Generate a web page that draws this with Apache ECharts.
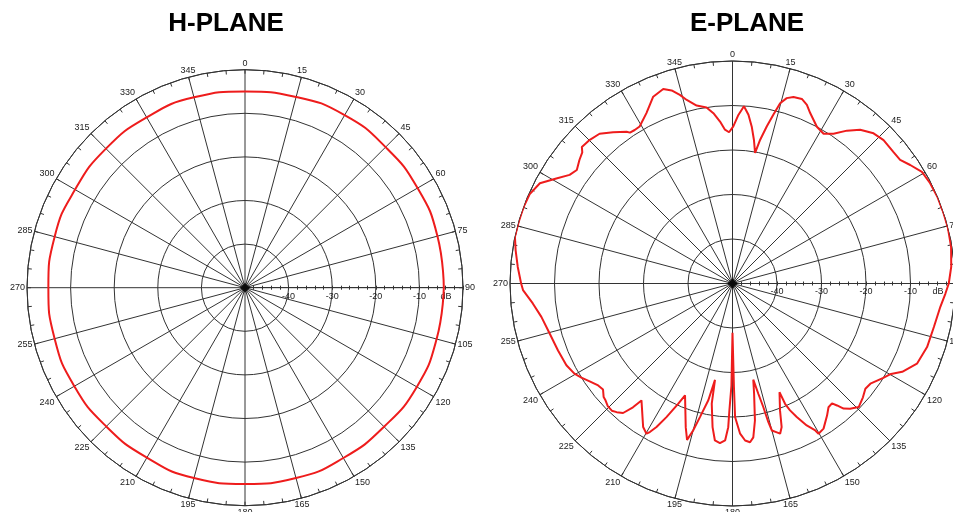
<!DOCTYPE html>
<html>
<head>
<meta charset="utf-8">
<script src="https://cdn.jsdelivr.net/npm/echarts@6/dist/echarts.min.js"></script>
<style>
  html, body { margin: 0; padding: 0; background: #fff; }
  #chart { width: 953px; height: 512px; }
</style>
</head>
<body>
<div id="chart"></div>
<script>
// Azimuth in degrees (clockwise from 0 at top) and relative gain in dB.
const hPlaneAngles = [0, 15, 30, 45, 60, 75, 90, 105, 120, 135, 150, 165,
                      180, 195, 210, 225, 240, 255, 270, 285, 300, 315, 330, 345];
const hPlaneGain = [-5.0, -4.7, -4.3, -4.4, -4.3, -4.3, -4.4, -4.5, -4.5, -4.9, -4.9, -4.8,
                    -5.0, -4.8, -5.0, -5.0, -4.8, -4.8, -4.9, -4.8, -5.0, -4.9, -4.9, -4.8];

const ePlaneAngles = [
  0.3, 2.0, 3.7, 5.4, 7.0, 8.5, 9.8, 10.9, 12.3, 13.6, 14.8, 16.3, 18.1, 20.6, 22.6, 24.5,
  28.3, 31.3, 34.0, 36.8, 39.7, 43.2, 46.5, 50.7, 53.6, 56.3, 59.5, 63.1, 67.2, 71.0, 75.4,
  80.5, 85.6, 90.0, 92.7, 96.4, 102.2, 108.1, 113.5, 117.5, 119.7, 122.2, 126.0, 128.4,
  131.1, 134.4, 136.8, 138.4, 139.4, 140.3, 142.2, 144.4, 147.9, 150.2, 150.6, 152.4,
  154.3, 155.6, 156.4, 156.6, 159.5, 161.1, 162.4, 163.4, 165.0, 165.5, 166.0, 166.8,
  167.8, 168.9, 170.7, 172.3, 173.7, 175.4, 177.1, 178.9, 179.2, 180.0, 180.6, 181.4,
  181.7, 182.7, 184.5, 186.4, 187.9, 189.8, 190.3, 191.7, 193.7, 195.0, 196.2, 198.0,
  203.0, 204.3, 206.3, 207.9, 209.1, 209.8, 211.9, 217.9, 218.8, 220.2, 222.0, 223.5,
  225.5, 227.3, 228.6, 230.7, 232.8, 235.6, 238.1, 240.3, 243.8, 249.0, 254.7, 260.1,
  264.3, 268.2, 270.0, 274.4, 278.7, 282.1, 285.9, 290.0, 293.8, 297.5, 300.8, 303.7,
  306.1, 308.9, 311.1, 312.2, 315.2, 318.4, 321.7, 325.1, 325.8, 327.5, 329.4, 333.2,
  337.0, 340.4, 342.5, 344.4, 346.0, 348.6, 351.6, 353.6, 355.6, 357.2, 358.7
];
const ePlaneGain = [
  -14.7, -12.1, -10.1, -11.9, -14.5, -17.4, -20.2, -17.1, -13.9, -11.0, -8.1, -6.6, -5.9, -5.7, -6.5, -7.9,
  -10.0, -10.6, -9.4, -7.1, -5.1, -3.7, -3.2, -3.3, -3.2, -2.0, -0.6, -0.2, 0, 0, 0,
  -0.2, -0.7, -1.4, -2.1, -3.0, -3.7, -4.0, -4.8, -7.0, -9.0, -10.1, -11.7, -11.9,
  -11.1, -10.3, -11.4, -12.4, -13.9, -15.0, -14.8, -13.5, -11.5, -11.1, -12.1, -14.0,
  -16.7, -18.7, -20.5, -23.4, -19.5, -15.9, -14.6, -15.1, -15.8, -17.8, -21.4, -24.5,
  -27.9, -24.8, -18.8, -15.1, -14.1, -14.6, -16.2, -20.0, -26.7, -38.9, -27.0, -21.5,
  -17.7, -14.7, -14.0, -14.5, -17.4, -22.6, -28.0, -23.2, -19.1, -15.8, -13.4, -16.0,
  -22.7, -20.3, -16.5, -13.5, -11.8, -11.1, -12.0, -16.7, -14.3, -11.9, -11.1, -10.6,
  -10.7, -11.2, -11.4, -12.4, -12.1, -11.1, -10.0, -9.1, -8.4, -8.0, -7.4, -6.4,
  -4.9, -2.9, -2.5, -1.6, -0.7, 0, 0, 0, -0.2, -1.2, -3.9, -6.0,
  -6.7, -5.8, -5.2, -4.3, -4.5, -5.0, -6.7, -8.4, -9.0, -9.1, -9.0, -7.1,
  -4.4, -3.6, -4.5, -6.0, -7.5, -9.2, -10.0, -11.5, -13.5, -15.4, -16.0
];

// Radial scale: rings every 10 dB from the -50 dB centre to 0 dB at the rim.
const dbMin = -50;
const dbMax = 0;
const dbStep = 10;
const dbUnit = 'dB';
const planeTitles = ['H-PLANE', 'E-PLANE'];

const FONT = '"Liberation Sans", Arial, sans-serif';
const GRID = '#333';
const LABEL = '#222';
const TRACE = '#ee1c1c';

// The radius axis is drawn along the start direction, so the angle scale
// starts at 90 (east) and runs clockwise to 450; 0..89 deg live at 360..449.
function axisAngle(deg) { return deg < 90 ? deg + 360 : deg; }

function closedTrace(angles, gains) {
  const pts = angles.map((a, i) => [gains[i], axisAngle(a)])
                    .sort((p, q) => p[1] - q[1]);
  pts.push([pts[0][0], pts[0][1] + 360]);
  return pts;
}

const layouts = [
  { center: [245, 287.7], radius: 218 },
  { center: [732.5, 283.5], radius: 222.5 }
];

function angleAxisMain(i) {
  return {
    polarIndex: i, type: 'value', min: 90, max: 450, interval: 15,
    startAngle: 0, clockwise: true,
    axisLine: { show: true, lineStyle: { color: GRID, width: 1 } },
    // negative lengths put the 5-degree marks on the inner side of the rim
    axisTick: { show: true, inside: false, length: -4, lineStyle: { color: GRID } },
    minorTick: { show: true, splitNumber: 3, length: -4, lineStyle: { color: GRID } },
    axisLabel: { show: true, margin: 2, fontSize: 9, color: LABEL, fontFamily: FONT,
                 formatter: v => String(v % 360) },
    splitLine: { show: true, lineStyle: { color: GRID, width: 1 } },
    minorSplitLine: { show: false }
  };
}
function angleAxisBlank(i) {
  return {
    polarIndex: i, type: 'value', min: 90, max: 450, interval: 15,
    startAngle: 0, clockwise: true,
    axisLine: { show: false }, axisTick: { show: false }, axisLabel: { show: false },
    splitLine: { show: false }
  };
}
function radiusAxisMain(i) {
  return {
    polarIndex: i, type: 'value', min: dbMin, max: dbMax, interval: dbStep,
    axisLine: { show: true, lineStyle: { color: GRID, width: 1 } },
    axisTick: { show: true, length: 2, lineStyle: { color: GRID } },
    minorTick: { show: true, splitNumber: 5, length: 2, lineStyle: { color: GRID } },
    axisLabel: {
      show: true, margin: -4, verticalAlign: 'top', fontSize: 9, color: LABEL, fontFamily: FONT,
      formatter: v => v === dbMax ? '{u|' + dbUnit + '}' : (v === dbMin ? '' : String(v)),
      rich: { u: { padding: [0, 34, 0, 0], fontSize: 9, color: LABEL, fontFamily: FONT } }
    },
    splitLine: { show: true, lineStyle: { color: GRID, width: 1 } }
  };
}
function radiusAxisTicksBelow(i) {
  return {
    polarIndex: i, type: 'value', min: dbMin, max: dbMax, interval: dbStep,
    axisLine: { show: false },
    axisTick: { show: true, length: -2, lineStyle: { color: GRID } },
    minorTick: { show: true, splitNumber: 5, length: -2, lineStyle: { color: GRID } },
    axisLabel: { show: false },
    splitLine: { show: false }
  };
}

const traces = [closedTrace(hPlaneAngles, hPlaneGain), closedTrace(ePlaneAngles, ePlaneGain)];

const option = {
  backgroundColor: '#fff',
  animation: false,
  title: [
    { text: planeTitles[0], left: 221, top: 6, textAlign: 'center',
      textStyle: { fontSize: 26, fontWeight: 'bold', color: '#000', fontFamily: FONT } },
    { text: planeTitles[1], left: 742, top: 6, textAlign: 'center',
      textStyle: { fontSize: 26, fontWeight: 'bold', color: '#000', fontFamily: FONT } }
  ],
  polar: [layouts[0], layouts[1], layouts[0], layouts[1]],
  angleAxis: [angleAxisMain(0), angleAxisMain(1), angleAxisBlank(2), angleAxisBlank(3)],
  radiusAxis: [radiusAxisMain(0), radiusAxisMain(1), radiusAxisTicksBelow(2), radiusAxisTicksBelow(3)],
  series: [
    { type: 'line', coordinateSystem: 'polar', polarIndex: 0, data: traces[0],
      showSymbol: false, smooth: true, clip: false, z: 5,
      lineStyle: { color: TRACE, width: 2 } },
    { type: 'line', coordinateSystem: 'polar', polarIndex: 1, data: traces[1],
      showSymbol: false, smooth: false, clip: false, z: 5,
      lineStyle: { color: TRACE, width: 2 } },
    { type: 'scatter', coordinateSystem: 'polar', polarIndex: 0, data: [[dbMin, 90]],
      symbol: 'diamond', symbolSize: 10, itemStyle: { color: '#000' }, z: 6 },
    { type: 'scatter', coordinateSystem: 'polar', polarIndex: 1, data: [[dbMin, 90]],
      symbol: 'diamond', symbolSize: 10, itemStyle: { color: '#000' }, z: 6 }
  ]
};

const chart = echarts.init(document.getElementById('chart'), null, { renderer: 'canvas' });
chart.setOption(option);
</script>
</body>
</html>
